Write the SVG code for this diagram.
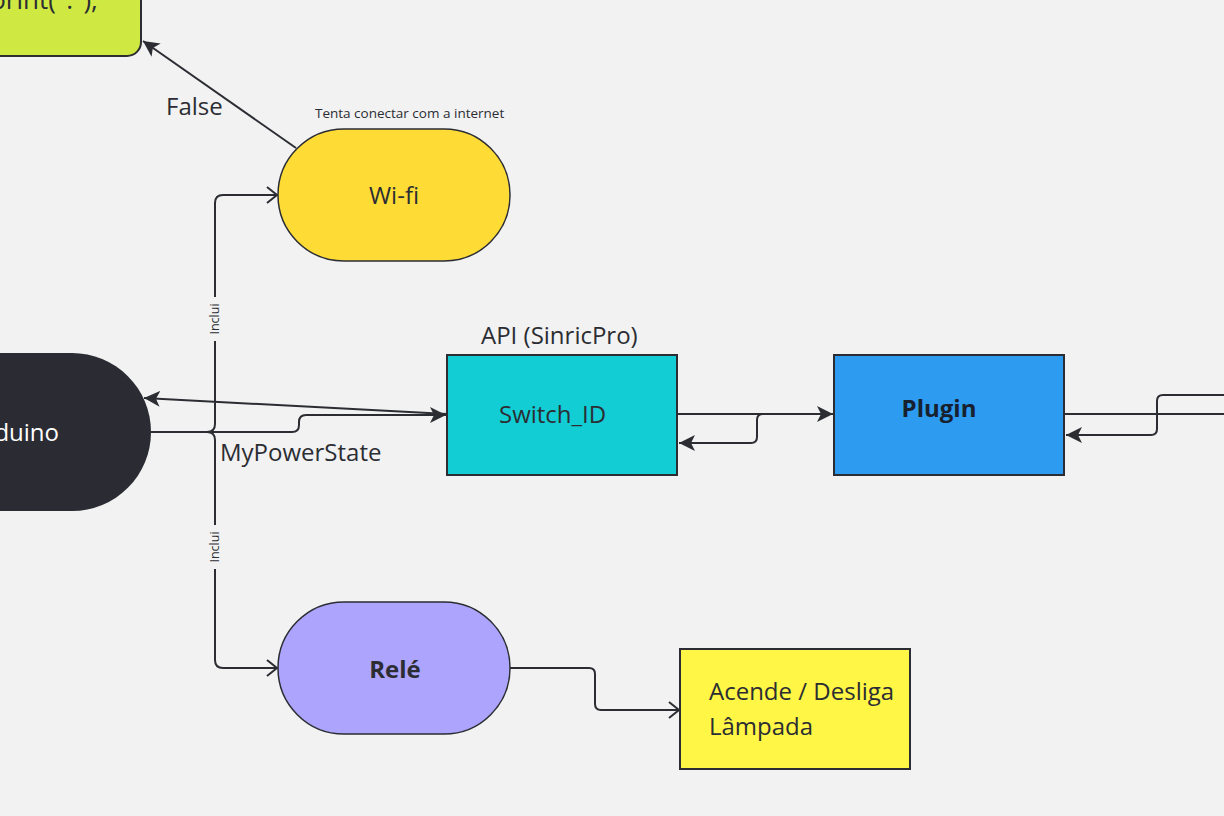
<svg xmlns="http://www.w3.org/2000/svg" width="1224" height="816" viewBox="0 0 1224 816">
<style>
text{font-family:"Open Sans","Noto Sans","DejaVu Sans",sans-serif;fill:#2b2d33}
.node{stroke:#2b2d33;stroke-width:1.5}
.box{stroke:#2b2d33;stroke-width:2}
.lbl{font-size:24px}
.c{fill:none;stroke:#2b2d33;stroke-width:2}
.small{font-size:13.5px}
.inc{font-size:12.5px}
</style>
<defs>
<marker id="af" markerUnits="userSpaceOnUse" markerWidth="18" markerHeight="16" refX="16" refY="8" orient="auto">
<path d="M0,0 L16,8 L0,16 L4,8 Z" fill="#2b2d33"/>
</marker>
<marker id="ao" markerUnits="userSpaceOnUse" markerWidth="14" markerHeight="18" refX="11" refY="9" orient="auto">
<path d="M1,1 L11,9 L1,17" fill="none" stroke="#2b2d33" stroke-width="2"/>
</marker>
</defs>
<rect width="1224" height="816" fill="#f2f2f2"/>

<g id="connectors">
<path class="c" d="M296,148 L143,41" marker-end="url(#af)"/>
<path class="c" d="M151,432 H207 Q215,432 215,424 V203 Q215,195 223,195 H277" marker-end="url(#ao)"/>
<path class="c" d="M151,432 H207 Q215,432 215,440 V660 Q215,668 223,668 H277" marker-end="url(#ao)"/>
<path class="c" d="M151,432 H292 Q299,432 299,425 V422 Q299,415 306,415 H446" marker-end="url(#af)"/>
<path class="c" d="M447,414 L144,398" marker-end="url(#af)"/>
<path class="c" d="M677,414 H833" marker-end="url(#af)"/>
<path class="c" d="M834,414 H763 Q757,414 757,420 V437 Q757,443 751,443 H679" marker-end="url(#af)"/>
<path class="c" d="M1064,414 H1224"/>
<path class="c" d="M1224,395 H1163 Q1157,395 1157,401 V429 Q1157,435 1151,435 H1066" marker-end="url(#af)"/>
<path class="c" d="M510,668 H589 Q595,668 595,674 V704 Q595,710 601,710 H679" marker-end="url(#ao)"/>
<rect x="206" y="297" width="18" height="44" fill="#f2f2f2"/>
<text class="inc" transform="translate(219,319) rotate(-90)" text-anchor="middle">Inclui</text>
<rect x="206" y="525" width="18" height="44" fill="#f2f2f2"/>
<text class="inc" transform="translate(219,547) rotate(-90)" text-anchor="middle">Inclui</text>
<text class="lbl" x="166" y="115">False</text>
<text class="lbl" x="220" y="461">MyPowerState</text>
</g>

<g id="print">
<rect class="box" x="-20" y="-30" width="161" height="86" rx="14" fill="#cfe942"/>
<text x="98" y="9" text-anchor="end" font-size="26">Serial.print(".");</text>
</g>

<g id="wifi">
<rect class="node" x="278" y="129" width="232" height="132" rx="66" fill="#ffdc35"/>
<text class="lbl" x="394" y="204" text-anchor="middle">Wi-fi</text>
<text class="small" x="315" y="118">Tenta conectar com a internet</text>
</g>

<g id="arduino">
<path d="M-100,353 H72 A79,79 0 0 1 72,511 H-100 Z" fill="#2b2c33"/>
<text class="lbl" x="59" y="441" text-anchor="end" style="fill:#ffffff">Arduino</text>
</g>

<g id="switch">
<rect class="box" x="447" y="355" width="230" height="120" fill="#12cdd4"/>
<text class="lbl" x="499" y="423">Switch_ID</text>
<text class="lbl" x="481" y="344">API (SinricPro)</text>
</g>

<g id="plugin">
<rect class="box" x="834" y="355" width="230" height="120" fill="#2d9bf0"/>
<text class="lbl" x="939" y="417" text-anchor="middle" font-weight="bold" style="fill:#17202e">Plugin</text>
</g>

<g id="rele">
<rect class="node" x="278" y="602" width="232" height="132" rx="66" fill="#ada5fd"/>
<text class="lbl" x="395" y="678" text-anchor="middle" font-weight="bold">Relé</text>
</g>

<g id="lampada">
<rect class="box" x="680" y="649" width="230" height="120" fill="#fff645"/>
<text class="lbl" x="709" y="700">Acende / Desliga</text>
<text class="lbl" x="709" y="735">Lâmpada</text>
</g>
</svg>
